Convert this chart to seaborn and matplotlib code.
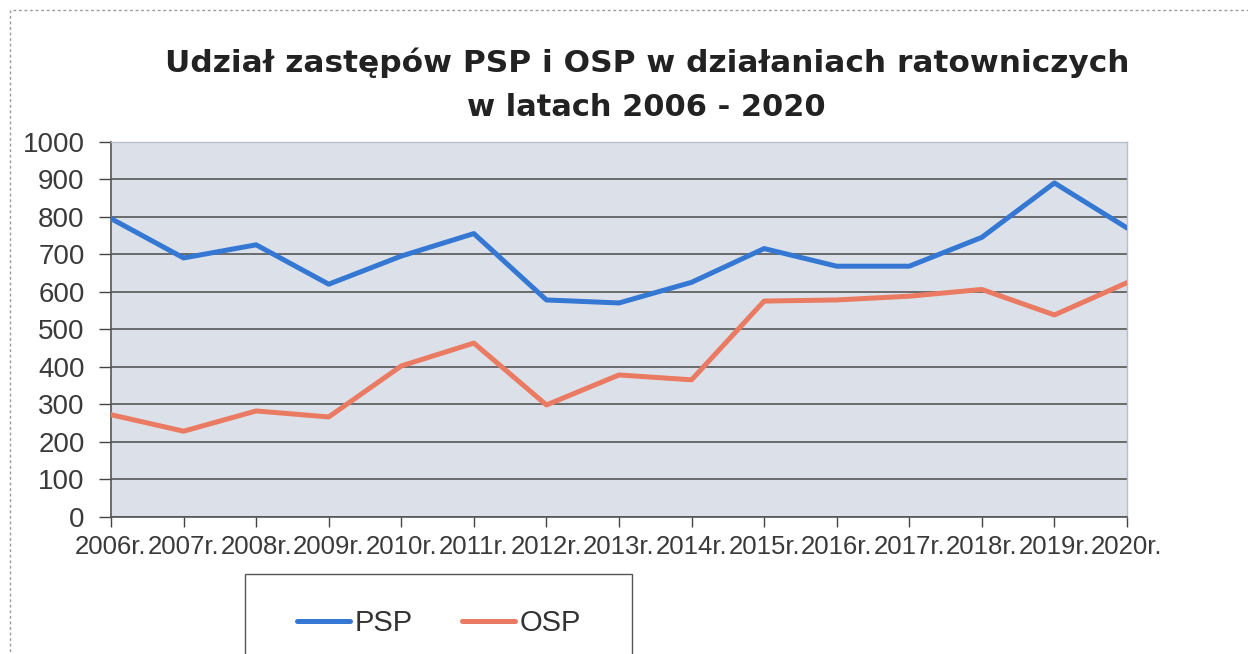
import matplotlib
matplotlib.use("Agg")
import matplotlib.pyplot as plt
import seaborn as sns
import pandas as pd
from matplotlib.patches import Rectangle
from matplotlib.lines import Line2D

years = ["2006r.", "2007r.", "2008r.", "2009r.", "2010r.", "2011r.", "2012r.",
         "2013r.", "2014r.", "2015r.", "2016r.", "2017r.", "2018r.", "2019r.", "2020r."]
psp = [795, 690, 725, 620, 695, 755, 578, 570, 625, 715, 668, 668, 745, 890, 770]
osp = [272, 228, 282, 266, 402, 463, 298, 378, 365, 575, 578, 588, 606, 538, 624]
series_names = ["PSP", "OSP"]
colors = ["#3478d4", "#ea7a62"]
yticks = [0, 100, 200, 300, 400, 500, 600, 700, 800, 900, 1000]
title_lines = ["Udział zastępów PSP i OSP w działaniach ratowniczych",
               "w latach 2006 - 2020"]

sns.set_style("white")
plt.rcParams["font.family"] = ["Liberation Sans", "DejaVu Sans"]

df = pd.DataFrame({
    "rok": years * 2,
    "wartosc": psp + osp,
    "seria": [series_names[0]] * len(years) + [series_names[1]] * len(years),
})

W, H = 1248, 654
fig = plt.figure(figsize=(W / 100, H / 100), dpi=100)
ax = fig.add_axes([111 / W, 1 - 516.7 / H, (1127 - 111) / W, (516.7 - 141.7) / H])
ax.set_facecolor("#dce1e9")

for y in yticks:
    ax.axhline(y, color="#4a4a4a", lw=1.1, zorder=1)

sns.lineplot(data=df, x="rok", y="wartosc", hue="seria", palette=colors,
             linewidth=3.6, ax=ax, legend=False, zorder=3, sort=False)

ax.set_xlim(0, len(years) - 1)
ax.set_ylim(0, 1000)
ax.set_yticks(yticks)
ax.set_yticklabels([str(v) for v in yticks], fontsize=20, color="#3a3a3a")
ax.set_xticks(range(len(years)))
ax.set_xticklabels(years, fontsize=18.5, color="#3a3a3a")
ax.tick_params(axis="both", which="both", width=1, color="#444444",
               direction="out", left=True, bottom=True)
ax.tick_params(axis="y", length=9, pad=10)
ax.tick_params(axis="x", length=7, pad=6)
ax.set_xlabel("")
ax.set_ylabel("")
for side in ["top", "right"]:
    ax.spines[side].set_visible(True)
    ax.spines[side].set_color("#b8bfca")
    ax.spines[side].set_linewidth(1)
for side in ["left", "bottom"]:
    ax.spines[side].set_color("#555555")
    ax.spines[side].set_linewidth(1.2)

fig.text(647.5 / W, 1 - 72 / H, title_lines[0], ha="center", va="baseline",
         fontsize=22.5, fontweight="bold", color="#222222", family="DejaVu Sans")
fig.text(646 / W, 1 - 116 / H, title_lines[1], ha="center", va="baseline",
         fontsize=22, fontweight="bold", color="#222222", family="DejaVu Sans")

handles = [Line2D([], [], color=c, lw=3.6) for c in colors]
leg = fig.legend(handles, series_names, loc="center left",
                 bbox_to_anchor=(297 / W, 1 - 623 / H),
                 ncol=2, fontsize=21, frameon=False,
                 handlelength=1.8, handletextpad=0.17, columnspacing=1.7,
                 borderpad=0, borderaxespad=0)
for t in leg.get_texts():
    t.set_color("#333333")

fig.patches.append(Rectangle((245 / W, -0.1), (632 - 245) / W, 1 - 574 / H + 0.1,
                             transform=fig.transFigure, fill=False,
                             edgecolor="#555555", lw=1.0))

fig.patches.append(Rectangle((10 / W, -0.1), 1.2, 1 - 10 / H + 0.1,
                             transform=fig.transFigure, fill=False,
                             edgecolor="#9a9a9a", lw=1, ls=(0, (2, 2))))

fig.savefig("out.png", dpi=100)
